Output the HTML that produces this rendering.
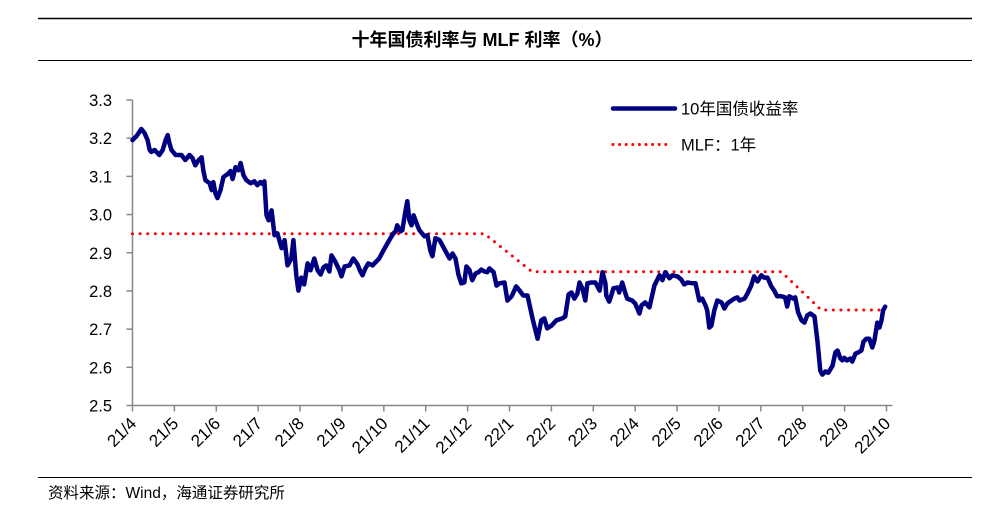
<!DOCTYPE html>
<html><head><meta charset="utf-8">
<style>
html,body{margin:0;padding:0;background:#fff;}
body{width:994px;height:511px;overflow:hidden;position:relative;font-family:"Liberation Sans","Noto Sans CJK SC",sans-serif;}
</style></head>
<body>
<svg id="chart" width="994" height="511" xmlns="http://www.w3.org/2000/svg" style="position:absolute;left:0;top:0">
<line x1="38" y1="18.5" x2="972" y2="18.5" stroke="#000" stroke-width="1.5"/>
<text x="482" y="46" text-anchor="middle" font-size="18" font-weight="bold" font-family="'Liberation Sans','Noto Sans CJK SC',sans-serif">十年国债利率与 MLF 利率（%）</text>
<line x1="38" y1="60.5" x2="972" y2="60.5" stroke="#000" stroke-width="1"/>
<line x1="38" y1="477.5" x2="972" y2="477.5" stroke="#000" stroke-width="1"/>
<text x="48" y="498" font-size="15.5" font-family="'Liberation Sans','Noto Sans CJK SC',sans-serif">资料来源：Wind，海通证券研究所</text>
<g id="axes"></g>
<g id="series"></g>
<g>
<line x1="613" y1="108.5" x2="675" y2="108.5" stroke="#000080" stroke-width="4.5" stroke-linecap="round"/>
<text x="681" y="114.5" font-size="16.5" font-family="'Liberation Sans','Noto Sans CJK SC',sans-serif">10年国债收益率</text>
<line x1="613" y1="144.5" x2="672" y2="144.5" stroke="#ff0000" stroke-width="3" stroke-dasharray="0 6.6" stroke-linecap="round"/>
<text x="681" y="150.5" font-size="16.5" font-family="'Liberation Sans','Noto Sans CJK SC',sans-serif">MLF：1年</text>
</g>
</svg>
<script>
const xTickLabels=["21/4","21/5","21/6","21/7","21/8","21/9","21/10","21/11","21/12","22/1","22/2","22/3","22/4","22/5","22/6","22/7","22/8","22/9","22/10"];
const yTicks=[2.5,2.6,2.7,2.8,2.9,3.0,3.1,3.2,3.3];
const yieldT=[0,0.10,0.21,0.29,0.36,0.41,0.45,0.53,0.64,0.72,0.79,0.84,0.88,0.93,1.03,1.17,1.26,1.36,1.43,1.50,1.58,1.65,1.69,1.74,1.84,1.89,1.93,1.98,2.03,2.10,2.17,2.27,2.34,2.39,2.46,2.53,2.58,2.65,2.72,2.82,2.91,2.98,3.05,3.10,3.15,3.20,3.25,3.32,3.39,3.46,3.56,3.63,3.70,3.79,3.84,3.91,3.96,4.03,4.10,4.18,4.25,4.34,4.42,4.49,4.56,4.63,4.70,4.75,4.84,4.94,4.99,5.06,5.18,5.27,5.37,5.44,5.49,5.56,5.63,5.73,5.80,5.89,5.99,6.13,6.23,6.28,6.32,6.40,6.44,6.52,6.56,6.61,6.66,6.71,6.80,6.85,6.97,7.04,7.11,7.16,7.23,7.33,7.40,7.49,7.57,7.64,7.71,7.78,7.85,7.92,7.97,8.04,8.11,8.19,8.26,8.33,8.40,8.47,8.52,8.62,8.69,8.76,8.88,8.95,9.05,9.16,9.24,9.33,9.43,9.55,9.67,9.76,9.83,9.90,10.00,10.12,10.26,10.33,10.41,10.48,10.55,10.62,10.67,10.74,10.81,10.86,10.95,11.05,11.15,11.22,11.29,11.31,11.38,11.43,11.48,11.58,11.62,11.69,11.77,11.81,11.93,12.00,12.10,12.15,12.24,12.34,12.46,12.58,12.65,12.72,12.82,12.89,13.01,13.10,13.17,13.25,13.37,13.44,13.53,13.60,13.68,13.72,13.77,13.82,13.89,13.96,14.06,14.13,14.20,14.30,14.37,14.44,14.49,14.61,14.68,14.77,14.84,14.92,15.01,15.08,15.16,15.25,15.32,15.39,15.49,15.58,15.63,15.68,15.78,15.82,15.89,15.97,16.04,16.11,16.18,16.28,16.35,16.42,16.47,16.54,16.61,16.71,16.78,16.83,16.90,16.95,16.99,17.06,17.14,17.18,17.26,17.33,17.40,17.45,17.52,17.59,17.66,17.71,17.78,17.83,17.88,17.92,17.97];
const yieldV=[3.195,3.206,3.224,3.213,3.195,3.169,3.164,3.169,3.156,3.169,3.195,3.208,3.187,3.169,3.156,3.156,3.143,3.156,3.148,3.129,3.143,3.150,3.116,3.090,3.082,3.064,3.085,3.056,3.043,3.064,3.098,3.106,3.114,3.093,3.124,3.116,3.135,3.103,3.090,3.082,3.087,3.077,3.085,3.080,3.087,2.998,2.985,3.011,2.946,2.951,2.912,2.933,2.867,2.885,2.933,2.841,2.801,2.835,2.817,2.872,2.854,2.885,2.854,2.843,2.862,2.867,2.851,2.893,2.877,2.854,2.838,2.864,2.867,2.885,2.870,2.851,2.841,2.859,2.872,2.867,2.875,2.885,2.906,2.933,2.951,2.956,2.972,2.956,2.959,3.011,3.035,2.985,2.972,2.998,2.972,2.959,2.943,2.946,2.906,2.891,2.938,2.933,2.919,2.901,2.885,2.898,2.885,2.843,2.820,2.822,2.864,2.856,2.828,2.846,2.849,2.856,2.851,2.849,2.859,2.849,2.814,2.820,2.822,2.775,2.786,2.812,2.801,2.788,2.788,2.728,2.675,2.723,2.728,2.702,2.709,2.723,2.728,2.733,2.791,2.796,2.780,2.793,2.822,2.807,2.775,2.820,2.822,2.822,2.801,2.849,2.820,2.788,2.772,2.788,2.807,2.809,2.796,2.822,2.793,2.780,2.775,2.767,2.741,2.762,2.770,2.757,2.814,2.841,2.828,2.849,2.833,2.841,2.838,2.830,2.817,2.822,2.820,2.820,2.775,2.780,2.762,2.749,2.704,2.709,2.749,2.775,2.770,2.754,2.767,2.775,2.780,2.783,2.775,2.780,2.793,2.814,2.838,2.825,2.841,2.835,2.835,2.812,2.801,2.786,2.786,2.783,2.759,2.786,2.780,2.783,2.744,2.723,2.717,2.736,2.741,2.733,2.670,2.591,2.581,2.589,2.586,2.604,2.639,2.644,2.623,2.618,2.625,2.618,2.623,2.615,2.636,2.639,2.644,2.667,2.675,2.675,2.652,2.670,2.717,2.704,2.723,2.749,2.759];
const mlfT=[0,8.4,9.54,15.49,16.44,18];
const mlfV=[2.95,2.95,2.85,2.85,2.75,2.75];

const NS="http://www.w3.org/2000/svg";
const X0=132.5,X1=886.5,Y0=405.5,Y1=100;
const xs=t=>X0+(X1-X0)*t/18;
const ys=v=>Y0-(Y0-Y1)*(v-2.5)/0.8;
function mk(tag,attrs,parent){const e=document.createElementNS(NS,tag);for(const k in attrs)e.setAttribute(k,attrs[k]);parent.appendChild(e);return e;}
const axes=document.getElementById('axes');
let yl=mk('line',{x1:X0,y1:Y1,x2:X0,y2:Y0,stroke:'#888','stroke-width':1.5},axes);


let xl=mk('line',{x1:X0,y1:Y0,x2:X1+6,y2:Y0,stroke:'#888','stroke-width':1.5},axes);


yTicks.forEach(v=>{
  const y=ys(v);
  let tk=mk('line',{x1:X0-6,y1:y,x2:X0,y2:y,stroke:'#888','stroke-width':1.5},axes);
  
  
  let tx=mk('text',{x:112,y:y+6,'text-anchor':'end','font-size':16.5},axes);
  tx.textContent=v.toFixed(1);
  
  
});
xTickLabels.forEach((s,i)=>{
  const x=xs(i);
  let tk=mk('line',{x1:x,y1:Y0,x2:x,y2:Y0+6,stroke:'#888','stroke-width':1.5},axes);
  
  
  let tx=mk('text',{x:x+5,y:Y0+19,'text-anchor':'end','font-size':17,transform:`rotate(-45 ${x+5} ${Y0+19})`},axes);
  tx.textContent=s;
  
  
});
const ser=document.getElementById('series');
let mp=mk('polyline',{points:mlfT.map((t,i)=>xs(t).toFixed(1)+','+ys(mlfV[i]).toFixed(1)).join(' '),fill:'none',stroke:'#ff0000','stroke-width':3,'stroke-dasharray':'0 7.6','stroke-linecap':'round'},ser);


let yp=mk('polyline',{points:yieldT.map((t,i)=>xs(t).toFixed(1)+','+ys(yieldV[i]).toFixed(1)).join(' '),fill:'none',stroke:'#000080','stroke-width':4.5,'stroke-linejoin':'round','stroke-linecap':'round'},ser);


</script>
</body></html>
